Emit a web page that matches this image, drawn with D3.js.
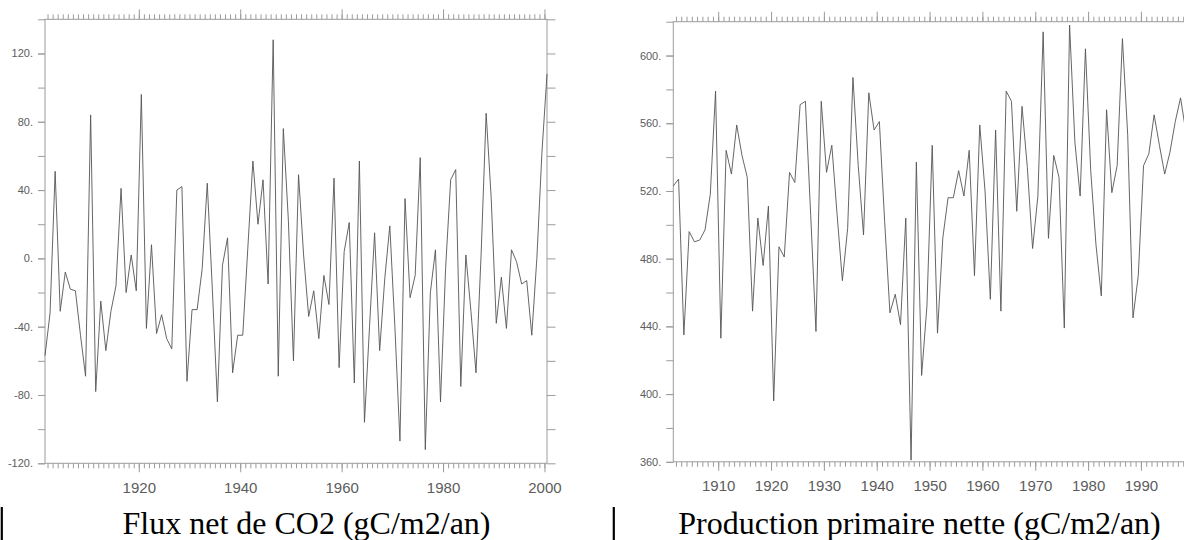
<!DOCTYPE html>
<html>
<head>
<meta charset="utf-8">
<script src="https://cdn.jsdelivr.net/npm/d3@7"></script>
<style>
  html, body { margin: 0; padding: 0; background: #fff; }
  svg { display: block; }
</style>
</head>
<body>
<svg id="fig" width="1184" height="540"></svg>
<script>
// Annual net CO2 flux, 1901-2000 (gC/m2/yr)
const fluxYears = d3.range(1901, 2001);
const fluxValues = [
  -57, -32, 51, -31, -8, -18, -19, -45, -69, 84,
  -78, -25, -54, -31, -16, 41, -20, 2, -19, 96,
  -41, 8, -44, -33, -47, -53, 40, 42, -72, -30,
  -30, -6, 44, -18, -84, -4, 12, -67, -45, -45,
  6, 57, 20, 46, -15, 128, -69, 76, 22, -60,
  49, 2, -34, -19, -47, -10, -27, 47, -64, 4,
  21, -73, 57, -96, -40, 15, -54, -12, 19, -40,
  -107, 35, -23, -10, 59, -112, -20, 5, -84, -6,
  46, 52, -75, 2, -31, -67, 2, 85, 35, -38,
  -11, -41, 5, -2, -15, -13, -45, 0, 62, 108
];

// Annual net primary production, 1901-1998 (gC/m2/yr)
const nppYears = d3.range(1901, 1999);
const nppValues = [
  523, 527, 435, 496, 490, 491, 497, 518, 579, 433,
  544, 530, 559, 541, 528, 449, 504, 476, 511, 396,
  487, 481, 531, 525, 571, 573, 506, 437, 573, 531,
  547, 506, 467, 498, 587, 535, 494, 578, 556, 561,
  502, 448, 459, 441, 504, 361, 537, 411, 452, 547,
  436, 492, 516, 516, 532, 517, 544, 470, 559, 520,
  456, 556, 449, 579, 573, 508, 570, 534, 486, 517,
  614, 492, 541, 528, 439, 618, 549, 517, 604, 532,
  488, 458, 568, 519, 535, 610, 553, 445, 470, 535,
  542, 565, 547, 530, 543, 561, 575, 555
];

// Axis ticks and labels
const fluxYLabels = [-120, -80, -40, 0, 40, 80, 120];
const fluxYTicks = d3.range(-120, 141, 20);
const fluxXLabels = [1920, 1940, 1960, 1980, 2000];
const nppYLabels = [360, 400, 440, 480, 520, 560, 600];
const nppYTicks = d3.range(360, 621, 20);
const nppXLabels = [1910, 1920, 1930, 1940, 1950, 1960, 1970, 1980, 1990];
const yearTicks = d3.range(1902, 2001);

const captions = ["Flux net de CO2 (gC/m2/an)", "Production primaire nette (gC/m2/an)"];

const frameColor = "#9c9c9c";
const labelColor = "#5c5c5c";
const lineColor = "#555555";

const svg = d3.select("#fig");
svg.append("rect").attr("width", 1184).attr("height", 540).attr("fill", "#fff");

const panels = [
  { years: fluxYears, values: fluxValues, yDomain: [-120, 140], yTicks: fluxYTicks, yLabels: fluxYLabels,
    xLabels: fluxXLabels, left: 45, right: 547, top: 19.3, bottom: 463.3, caption: captions[0], capX: 306.5 },
  { years: nppYears, values: nppValues, yDomain: [360, 620], yTicks: nppYTicks, yLabels: nppYLabels,
    xLabels: nppXLabels, left: 673.3, right: 1196.4, top: 21.7, bottom: 461.8, caption: captions[1], capX: 919.5 }
];

const fmt = d => d + ".";

function styleAxis(g) {
  g.select(".domain").remove();
  g.selectAll(".tick line").attr("stroke", frameColor).attr("stroke-width", 1);
}

panels.forEach(p => {
  const x = d3.scaleLinear().domain([1901.5, 2000.5]).range([p.left, p.right]);
  const y = d3.scaleLinear().domain(p.yDomain).range([p.bottom, p.top]);
  const g = svg.append("g");

  // minor yearly ticks, bottom and top
  g.append("g").attr("transform", `translate(0,${p.bottom})`)
    .call(d3.axisBottom(x).tickValues(yearTicks).tickSize(5).tickFormat(""))
    .call(styleAxis);
  g.append("g").attr("transform", `translate(0,${p.top})`)
    .call(d3.axisTop(x).tickValues(yearTicks).tickSize(5).tickFormat(""))
    .call(styleAxis);

  // major ticks with year labels along the bottom
  const xb = g.append("g").attr("transform", `translate(0,${p.bottom})`)
    .call(d3.axisBottom(x).tickValues(p.xLabels).tickSize(9).tickPadding(10).tickFormat(d => d))
    .call(styleAxis);
  xb.selectAll("text").attr("fill", labelColor)
    .style("font-family", "'Liberation Sans', Arial, Helvetica, sans-serif")
    .style("font-size", "15px");
  g.append("g").attr("transform", `translate(0,${p.top})`)
    .call(d3.axisTop(x).tickValues(p.xLabels).tickSize(10).tickFormat(""))
    .call(styleAxis);

  // value axes, left labelled and right plain
  g.append("g").attr("transform", `translate(${p.left},0)`)
    .call(d3.axisLeft(y).tickValues(p.yTicks).tickSize(7).tickFormat(""))
    .call(styleAxis);
  const yl = g.append("g").attr("transform", `translate(${p.left},0)`)
    .call(d3.axisLeft(y).tickValues(p.yLabels).tickSize(7).tickPadding(5).tickFormat(fmt))
    .call(styleAxis);
  yl.selectAll("text").attr("fill", labelColor)
    .style("font-family", "'Liberation Sans', Arial, Helvetica, sans-serif")
    .style("font-size", "11px");
  g.append("g").attr("transform", `translate(${p.right},0)`)
    .call(d3.axisRight(y).tickValues(p.yTicks).tickSize(8.5).tickFormat(""))
    .call(styleAxis);

  // plot frame
  g.append("rect")
    .attr("x", p.left).attr("y", p.top)
    .attr("width", p.right - p.left).attr("height", p.bottom - p.top)
    .attr("fill", "none").attr("stroke", frameColor).attr("stroke-width", 1);

  // annual series
  const series = p.years.map((yr, i) => ({ year: yr, value: p.values[i] }));
  const line = d3.line().x(d => x(d.year + 0.5)).y(d => y(d.value));
  g.append("path").datum(series)
    .attr("d", line)
    .attr("fill", "none")
    .attr("stroke", lineColor)
    .attr("stroke-width", 0.9)
    .attr("stroke-linejoin", "miter");

  // caption under the panel
  svg.append("text")
    .attr("x", p.capX).attr("y", 534)
    .attr("text-anchor", "middle")
    .attr("fill", "#000")
    .style("font-family", "'Liberation Serif', 'Times New Roman', serif")
    .style("font-size", "32px")
    .text(p.caption);
});

// cell borders beside the captions
[1.8, 613.8].forEach(bx => {
  svg.append("line")
    .attr("x1", bx).attr("x2", bx).attr("y1", 507).attr("y2", 540)
    .attr("stroke", "#000").attr("stroke-width", 2.2);
});
</script>
</body>
</html>
